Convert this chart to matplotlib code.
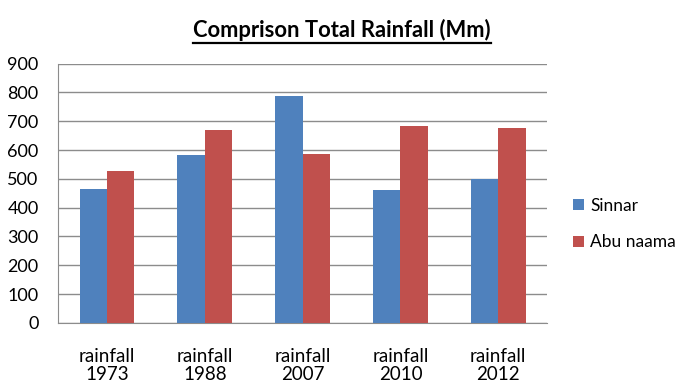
import numpy as np
import matplotlib
matplotlib.use("Agg")
import matplotlib.pyplot as plt
from matplotlib.lines import Line2D

# Total rainfall per year for the two stations
years = ["1973", "1988", "2007", "2010", "2012"]
categories = ["rainfall\n" + y for y in years]
sinnar = [466, 581, 787, 460, 500]
abu_naama = [527, 669, 587, 684, 676]

plt.rcParams["font.family"] = ["Lato", "DejaVu Sans"]

fig = plt.figure(figsize=(6.84, 3.83), dpi=100)
ax = fig.add_axes([0.085, 0.157, 0.715, 0.677])

x = np.arange(len(categories))
w = 0.28
ax.bar(x - w / 2, sinnar, width=w, color="#4F81BD", label="Sinnar", zorder=3)
ax.bar(x + w / 2, abu_naama, width=w, color="#C0504D", label="Abu naama", zorder=3)

ax.set_xlim(-0.5, len(categories) - 0.5)
ax.set_ylim(0, 900)
ax.set_yticks(range(0, 901, 100))
ax.yaxis.grid(True, color="#8c8c8c", linewidth=1, zorder=0)
ax.set_xticks(x)
ax.set_xticklabels(categories, fontsize=13.5, linespacing=1.05)
ax.tick_params(axis="y", labelsize=13, length=0, pad=14)
ax.tick_params(axis="x", length=0, pad=18)

for side in ["top", "right"]:
    ax.spines[side].set_visible(False)
for side in ["left", "bottom"]:
    ax.spines[side].set_color("#8c8c8c")

# title with an underline drawn beneath it
ty = 1 - 37 / 383
title = fig.text(0.5, ty, "Comprison Total Rainfall (Mm)", fontsize=15.8,
                 fontweight="bold", ha="center", va="baseline")
fig.canvas.draw()
bb = title.get_window_extent(renderer=fig.canvas.get_renderer())
inv = fig.transFigure.inverted()
(x0, _), (x1, _) = inv.transform([(bb.x0, bb.y0), (bb.x1, bb.y0)])
uy = ty - 6 / fig.bbox.height
fig.add_artist(Line2D([x0, x1], [uy, uy], transform=fig.transFigure,
                      color="black", linewidth=1.6))

fig.legend(loc="center left", bbox_to_anchor=(0.817, 0.415), frameon=False,
           fontsize=12.5, handlelength=0.65, handleheight=0.65, handletextpad=0.35,
           labelspacing=1.2, borderpad=0.3)

fig.savefig("out.png", dpi=100)
